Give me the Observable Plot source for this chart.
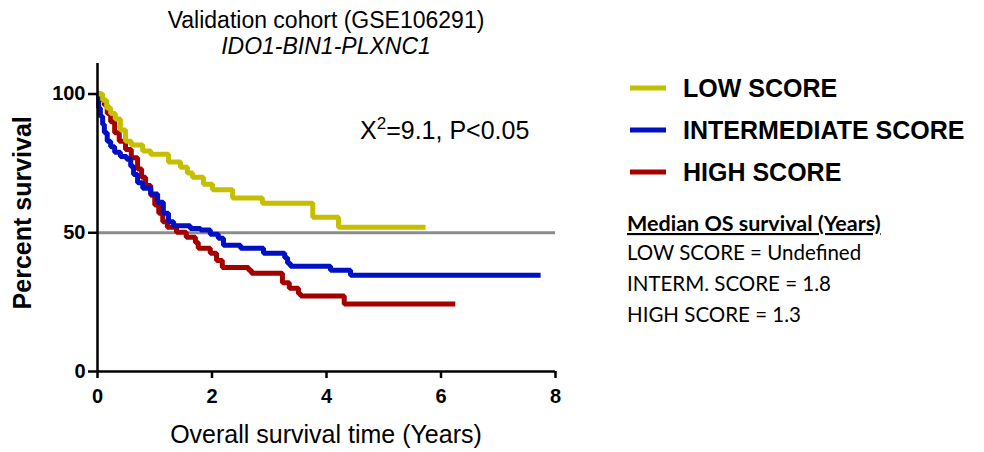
<!DOCTYPE html>
<html><head><meta charset="utf-8">
<script src="https://cdn.jsdelivr.net/npm/d3@7"></script>
<script src="https://cdn.jsdelivr.net/npm/@observablehq/plot@0.6"></script>
<style>body{margin:0;background:#fff}</style>
</head><body><div id="chart"></div>
<script>
// ---- data ----
const groups = ["LOW SCORE", "INTERMEDIATE SCORE", "HIGH SCORE"];
const groupColors = ["#c6bf00", "#0011c4", "#a50000"];

const lowTime = [0, 0.09, 0.16, 0.23, 0.31, 0.40, 0.49, 0.59, 0.79, 0.93, 1.24, 1.45, 1.57, 1.66, 1.85, 2.01, 2.36, 2.88, 3.76, 4.21, 5.73];
const lowSurv = [100, 97.8, 95, 93, 91, 87, 83, 81.6, 79.5, 78.3, 75.5, 73.6, 71.5, 70, 67.5, 65.5, 62.5, 60.6, 55.6, 52, 52];

const intTime = [0, 0.02, 0.05, 0.09, 0.12, 0.17, 0.23, 0.30, 0.40, 0.51, 0.58, 0.63, 0.70, 0.79, 0.93, 1.05, 1.15, 1.24, 1.33, 1.62, 1.80, 1.97, 2.11, 2.20, 2.50, 2.90, 3.27, 3.32, 3.37, 4.07, 4.42, 7.74];
const intSurv = [100, 95, 92, 89, 86, 83, 81, 79, 77.5, 76.5, 74, 71, 68, 66, 64, 61, 57, 54, 52.5, 51.5, 51, 49.5, 48, 45.5, 44.4, 42.6, 41, 39, 37.9, 36.5, 34.7, 34.7];

const highTime = [0, 0.05, 0.12, 0.17, 0.23, 0.30, 0.38, 0.49, 0.59, 0.70, 0.77, 0.84, 0.93, 1.00, 1.07, 1.14, 1.22, 1.38, 1.55, 1.71, 1.76, 1.97, 2.08, 2.18, 2.64, 2.69, 3.23, 3.35, 3.51, 3.55, 4.31, 6.25];
const highSurv = [100, 98, 96, 93, 90, 86, 83, 80, 77, 73, 70, 67, 63.5, 60, 57, 54, 52, 50.2, 48.4, 46.5, 44.4, 42.6, 40, 37.5, 36.5, 35.4, 32, 30, 28, 27.2, 24.3, 24.3];

const xTicks = [0, 2, 4, 6, 8];
const yTicks = [0, 50, 100];
const medianLevel = [50];
const titleLines = ["Validation cohort (GSE106291)", "IDO1-BIN1-PLXNC1"];
const xLabel = "Overall survival time (Years)";
const yLabel = "Percent survival";
const statText = ["X", "2", "=9.1, P<0.05"];
const medianTitle = "Median OS survival (Years)";
const medianLines = ["LOW SCORE = Undefined", "INTERM. SCORE = 1.8", "HIGH SCORE = 1.3"];

// ---- build table (drawn high first, low on top) ----
const toRows = (g, ts, ss) => ts.map((t, i) => ({group: g, t, s: ss[i]}));
const rows = [
  ...toRows(groups[2], highTime, highSurv),
  ...toRows(groups[1], intTime, intSurv),
  ...toRows(groups[0], lowTime, lowSurv)
];

const W = 984, H = 452;
const plot = Plot.plot({
  width: W, height: H,
  marginLeft: 97, marginRight: 429, marginTop: 63, marginBottom: 81,
  style: {fontFamily: "Liberation Sans, Arial, sans-serif", background: "#fff", color: "#000"},
  x: {domain: [0, 8], label: null},
  y: {domain: [0, 111], label: null},
  color: {domain: groups, range: groupColors},
  marks: [
    Plot.ruleY(medianLevel, {x1: 0, x2: 8, stroke: "#8c8c8c", strokeWidth: 3}),
    Plot.line(rows, {x: "t", y: "s", z: "group", stroke: "group", curve: "step-after",
      strokeWidth: 5, strokeLinecap: "butt", strokeLinejoin: "miter"}),
    Plot.ruleX([0], {y1: 0, y2: 111, stroke: "#000", strokeWidth: 2.5}),
    Plot.ruleY([0], {x1: 0, x2: 8, stroke: "#000", strokeWidth: 2.5}),
    Plot.axisX({ticks: xTicks, tickSize: 7, strokeWidth: 2.5, tickPadding: 10,
      fontSize: 20, fontWeight: "bold", label: null}),
    Plot.axisY({ticks: yTicks, tickSize: 9, strokeWidth: 2.5, tickPadding: 3,
      fontSize: 20, fontWeight: "bold", label: null})
  ]
});
document.getElementById("chart").appendChild(plot);

// ---- annotations ----
const svg = d3.select(plot);
const xs = plot.scale("x"), ys = plot.scale("y"), cs = plot.scale("color");
const cx = (xs.apply(0) + xs.apply(8)) / 2;
const ff = "Liberation Sans, Arial, sans-serif";

svg.append("text").attr("x", cx).attr("y", 28).attr("text-anchor", "middle")
  .attr("font-family", ff).attr("font-size", 23).text(titleLines[0]);
svg.append("text").attr("x", cx).attr("y", 54).attr("text-anchor", "middle")
  .attr("font-family", ff).attr("font-size", 23).attr("font-style", "italic").text(titleLines[1]);

svg.append("text").attr("x", cx).attr("y", 443).attr("text-anchor", "middle")
  .attr("font-family", ff).attr("font-size", 25).text(xLabel);

svg.append("text").attr("transform", `translate(31,${ys.apply(57)}) rotate(-90)`)
  .attr("text-anchor", "middle").attr("font-family", ff).attr("font-size", 25)
  .attr("font-weight", "bold").text(yLabel);

const st = svg.append("text").attr("x", 360).attr("y", 139).attr("text-anchor", "start")
  .attr("font-family", ff).attr("font-size", 25);
st.append("tspan").text(statText[0]);
st.append("tspan").attr("dy", -10).attr("font-size", 17).text(statText[1]);
st.append("tspan").attr("dy", 10).text(statText[2]);

// legend
const legY = [88, 130, 172];
groups.forEach((g, i) => {
  svg.append("line").attr("x1", 630).attr("x2", 666).attr("y1", legY[i]).attr("y2", legY[i])
    .attr("stroke", cs.apply(g)).attr("stroke-width", 5);
  svg.append("text").attr("x", 683).attr("y", legY[i] + 9).attr("text-anchor", "start")
    .attr("font-family", ff).attr("font-size", 25).attr("font-weight", "bold").text(g);
});

// median block
const mf = "Lato, Open Sans, sans-serif";
svg.append("text").attr("x", 627).attr("y", 231).attr("text-anchor", "start")
  .attr("font-family", mf).attr("font-size", 21.5)
  .attr("font-weight", "bold").attr("text-decoration", "underline").text(medianTitle);
medianLines.forEach((t, i) => {
  svg.append("text").attr("x", 627).attr("y", 260 + i * 31).attr("text-anchor", "start")
    .attr("font-family", mf).attr("font-size", 20.5).text(t);
});
</script>
</body></html>
